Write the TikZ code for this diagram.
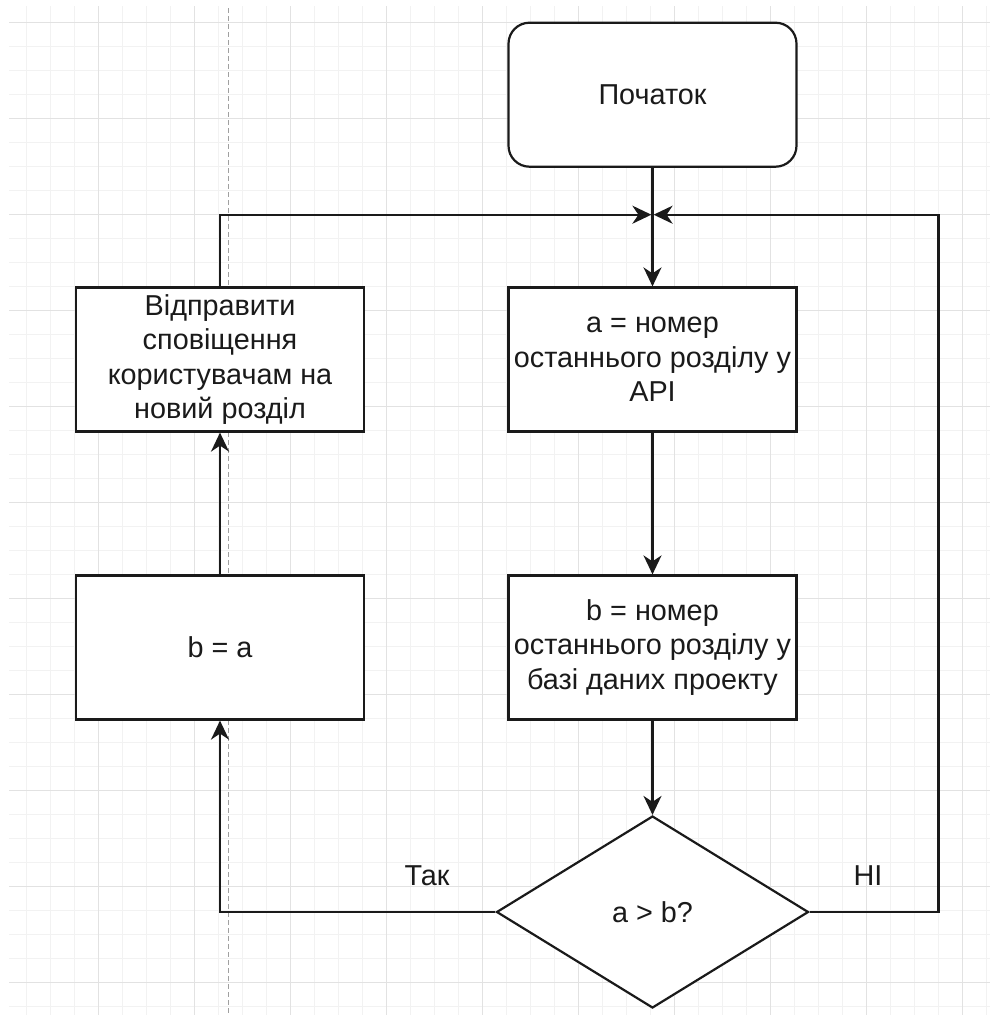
\documentclass[tikz,border=0pt]{standalone}
\usepackage{fontspec}
\setmainfont{Liberation Sans}
\usetikzlibrary{arrows.meta,shapes.geometric}

\definecolor{ink}{HTML}{1A1A1A}
\definecolor{minorgrid}{HTML}{F2F2F2}
\definecolor{majorgrid}{HTML}{E2E2E2}
\definecolor{pagebreak}{HTML}{A0A0A0}

\tikzset{
  base/.style={draw=ink, line width=2.2pt, fill=white, align=center, text=ink,
    inner sep=0pt, font=\fontsize{28.8}{34.56}\selectfont},
  stepbox/.style={base, rectangle, minimum width=288pt, minimum height=144pt},
  startbox/.style={stepbox, rounded corners=21pt},
  decision/.style={base, diamond, aspect=1.625, minimum width=312pt, minimum height=192pt},
  conn/.style={draw=ink, line width=2.2pt, -{Stealth[length=19pt,width=18pt,inset=6pt]}},
  edgelabel/.style={text=ink, inner sep=0pt, font=\fontsize{28.8}{34.56}\selectfont},
}

\begin{document}
\begin{tikzpicture}[x=1pt,y=-1pt]
\useasboundingbox (0,0) rectangle (990,1015);
\fill[white] (0,0) rectangle (990,1015);

% background grid: minor every 24, major every 96
\foreach \k in {-3,...,37}
  \draw[minorgrid, line width=1pt] ({98.5+24*\k},6) -- ({98.5+24*\k},1015);
\foreach \k in {0,...,41}
  \draw[minorgrid, line width=1pt] (9,{22.7+24*\k}) -- (990,{22.7+24*\k});
\foreach \k in {0,4,...,36}
  \draw[majorgrid, line width=1.2pt] ({98.5+24*\k},6) -- ({98.5+24*\k},1015);
\foreach \k in {0,4,...,40}
  \draw[majorgrid, line width=1.2pt] (9,{22.7+24*\k}) -- (990,{22.7+24*\k});

% page break marker
\draw[pagebreak, line width=1pt, dash pattern=on 5pt off 3pt] (228,8) -- (228,1015);

% flowchart nodes
\node[startbox] (start) at (652.5,94.7) {Початок};
\node[stepbox] (boxA) at (652.5,359.5) {a = номер\\останнього розділу у\\API};
\node[stepbox] (boxB) at (652.5,647.5) {b = номер\\останнього розділу у\\базі даних проекту};
\node[decision] (dec) at (652.5,912) {a > b?};
\node[stepbox] (assign) at (220,647.5) {b = a};
\node[stepbox] (notify) at (220,359.5) {Відправити\\сповіщення\\користувачам на\\новий розділ};

% junction where the loop returns
\coordinate (join) at (652.5,214.7);
\coordinate (rtop) at (938.5,214.7);

% connectors
\draw[conn] (start.south) -- (boxA.north);
\draw[conn] (boxA.south) -- (boxB.north);
\draw[conn] (boxB.south) -- (dec.north);
\draw[conn] (dec.west) -| (assign.south);
\draw[conn] (assign.north) -- (notify.south);
\draw[conn] (notify.north) |- ([xshift=-1.1pt]join);
\draw[conn] (dec.east) -| (rtop) -- ([xshift=1.1pt]join);

% branch labels
\node[edgelabel] (yes) at (427,876) {Так};
\node[edgelabel] (no) at (868,876) {НІ};
\end{tikzpicture}
\end{document}
